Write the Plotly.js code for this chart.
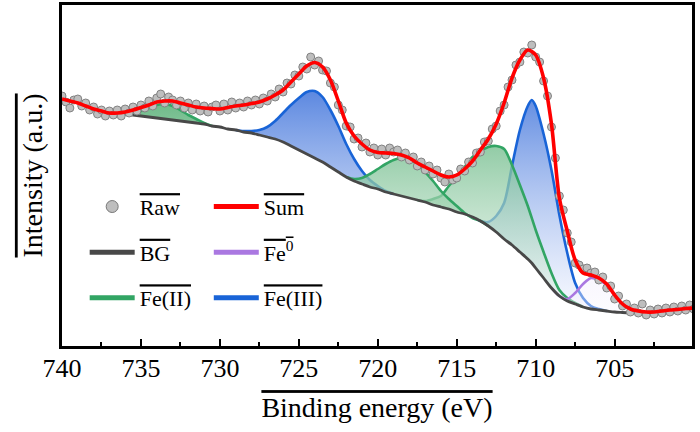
<!DOCTYPE html>
<html>
<head>
<meta charset="utf-8">
<script src="https://cdn.plot.ly/plotly-3.0.1.min.js"></script>
<style>
  html, body { margin: 0; padding: 0; background: #fff; }
  #xps { width: 700px; height: 432px; }
</style>
</head>
<body>
<div id="xps"></div>
<script>
// Fe 2p spectrum, intensity in arbitrary units

// raw scan, binding energy (eV)
const rawEnergy = [
    740, 739.75, 739.5, 739.25, 739, 738.75, 738.5, 738.25, 738, 737.75, 737.5, 737.25, 737, 736.75, 736.5, 736.25,
    736, 735.75, 735.5, 735.25, 735, 734.75, 734.5, 734.25, 734, 733.75, 733.5, 733.25, 733, 732.75, 732.5, 732.25,
    732, 731.75, 731.5, 731.25, 731, 730.75, 730.5, 730.25, 730, 729.75, 729.5, 729.25, 729, 728.75, 728.5, 728.25,
    728, 727.75, 727.5, 727.25, 727, 726.75, 726.5, 726.25, 726, 725.75, 725.5, 725.25, 725, 724.75, 724.5, 724.25,
    724, 723.75, 723.5, 723.25, 723, 722.75, 722.5, 722.25, 722, 721.75, 721.5, 721.25, 721, 720.75, 720.5, 720.25,
    720, 719.75, 719.5, 719.25, 719, 718.75, 718.5, 718.25, 718, 717.75, 717.5, 717.25, 717, 716.75, 716.5, 716.25,
    716, 715.75, 715.5, 715.25, 715, 714.75, 714.5, 714.25, 714, 713.75, 713.5, 713.25, 713, 712.75, 712.5, 712.25,
    712, 711.75, 711.5, 711.25, 711, 710.75, 710.5, 710.25, 710, 709.75, 709.5, 709.25, 709, 708.75, 708.5, 708.25,
    708, 707.75, 707.5, 707.25, 707, 706.75, 706.5, 706.25, 706, 705.75, 705.5, 705.25, 705, 704.75, 704.5, 704.25,
    704, 703.75, 703.5, 703.25, 703, 702.75, 702.5, 702.25, 702, 701.75, 701.5, 701.25, 701, 700.75, 700.5, 700.25,
    700
];
const rawIntensity = [
    250, 244, 238, 246, 247, 240, 243, 236, 239, 232, 236, 230, 235, 231, 236, 230,
    237, 233, 239, 235, 241, 238, 245, 240, 248, 252, 243, 249, 246, 241, 245, 238,
    243, 236, 242, 235, 240, 234, 239, 241, 235, 242, 236, 244, 238, 243, 239, 245,
    241, 246, 242, 248, 245, 252, 249, 257, 254, 263, 262, 271, 270, 279, 277, 289,
    281, 285, 276, 275, 263, 259, 241, 236, 220, 219, 207, 208, 199, 203, 194, 198,
    191, 197, 191, 198, 194, 196, 189, 193, 186, 189, 180, 184, 176, 180, 172, 176,
    168, 164, 172, 166, 168, 177, 175, 184, 183, 193, 194, 204, 205, 217, 220, 235,
    241, 259, 266, 281, 284, 294, 293, 301, 289, 284, 265, 250, 219, 188, 150, 136,
    113, 104, 83, 81, 77, 78, 73, 74, 66, 69, 58, 60, 47, 50, 40, 42,
    34, 38, 33, 42, 31, 36, 32, 37, 33, 38, 34, 39, 35, 40, 36, 41,
    37
];

// fitted envelope
const sumEnergy = [
    740, 739.5, 739, 738.5, 738, 737.5, 737, 736.5, 736, 735.5, 735, 734.5, 734, 733.5, 733, 732.5,
    732, 731.5, 731, 730.5, 730, 729.5, 729, 728.5, 728, 727.5, 727, 726.5, 726, 725.5, 725, 724.5,
    724, 723.5, 723, 722.5, 722, 721.5, 721, 720.5, 720, 719.5, 719, 718.5, 718, 717.5, 717, 716.5,
    716, 715.5, 715, 714.5, 714, 713.5, 713, 712.5, 712, 711.5, 711, 710.5, 710, 709.5, 709, 708.5,
    708, 707.5, 707, 706.5, 706, 705.5, 705, 704.5, 704, 703.5, 703, 702.5, 702, 701.5, 701, 700.5,
    700
];
const sumIntensity = [
    247, 245, 243, 240, 237, 235, 233, 233, 234, 236, 238.5, 241, 244, 245, 245, 243,
    241, 239, 238, 237.5, 237, 238.5, 240, 241, 242.5, 244, 247, 251, 256, 264, 272, 280,
    283.5, 279, 266, 245, 223, 210, 202, 196, 193.5, 193, 192.5, 191, 188, 183, 179, 175,
    171, 169, 171, 177, 185, 196, 207, 222, 243, 268, 286, 296, 291, 268, 222, 148,
    115, 86, 73, 71, 68, 62, 51, 42, 37, 35, 34, 34, 35, 36, 36.5, 37.5,
    38
];

// Shirley background
const bgEnergy = [
    736, 735.5, 735, 734.5, 734, 733.5, 733, 732.5, 732, 731.5, 731, 730.5, 730, 729.5, 729, 728.5,
    728, 727.5, 727, 726.5, 726, 725.5, 725, 724.5, 724, 723.5, 723, 722.5, 722, 721.5, 721, 720.5,
    720, 719.5, 719, 718.5, 718, 717.5, 717, 716.5, 716, 715.5, 715, 714.5, 714, 713.5, 713, 712.5,
    712, 711.5, 711, 710.5, 710.25, 710, 709.5, 709, 708.5, 708, 707.5, 707, 706.5, 706, 705.5, 705,
    704.5, 704
];
const bgIntensity = [
    232, 231, 230, 229, 228, 227, 226, 225, 224, 223, 222, 220, 219, 217, 216, 214,
    213, 211, 209, 207, 204, 200, 196, 192, 188, 184, 179, 174, 169, 165, 162, 159,
    157, 154, 152, 150, 148, 146, 144, 141, 139, 137, 134, 132, 129, 125, 120, 114,
    107, 101, 94, 87, 83, 78, 68, 58, 50, 45, 42, 39, 37, 36, 35, 34,
    33.5, 33
];

// components (curve incl. background)
const fe2SatEnergy = [736, 735.5, 735, 734.5, 734, 733.5, 733, 732.5, 732, 731.5, 731, 730.5];
const fe2SatIntensity = [232, 232, 235, 238, 241, 242, 240, 236, 231, 227, 223, 220];

const fe3HighEnergy = [729, 728.5, 728, 727.5, 727, 726.5, 726, 725.5, 725, 724.5, 724, 723.5, 723, 722.5, 722, 721.5, 721, 720.5, 720, 719.5, 719];
const fe3HighIntensity = [216, 215, 215, 216, 219, 225, 233, 241, 248, 254, 255, 249, 236, 220, 202, 187, 175, 166, 160, 155, 152];

const fe2MidEnergy = [722, 721.5, 721, 720.5, 720, 719.5, 719, 718.5, 718, 717.5, 717, 716.5, 716, 715.5, 715, 714.5, 714, 713.5, 713];
const fe2MidIntensity = [169, 167, 168, 172, 177, 182, 186, 188, 187, 182, 174, 165, 155, 147, 140, 133, 128, 125, 120];

const fe3LowEnergy = [714, 713.5, 713, 712.5, 712, 711.5, 711, 710.5, 710.25, 710, 709.5, 709, 708.5, 708, 707.5, 707, 706.5, 706, 705.5];
const fe3LowIntensity = [129, 125, 124, 130, 143, 180, 216, 240, 246, 240, 212, 176, 131, 93, 63, 48, 40, 37, 35];

const fe2LowEnergy = [717.5, 717, 716.5, 716, 715.5, 715, 714.5, 714, 713.5, 713, 712.5, 712, 711.5, 711, 710.5, 710, 709.5, 709, 708.5, 708, 707.5, 707];
const fe2LowIntensity = [146, 145, 147, 150, 160, 169, 179, 189, 195, 199, 200, 197, 181, 161, 140, 116, 94, 73, 56, 48, 43, 39];

const fe0Energy = [709, 708.5, 708, 707.5, 707, 706.5, 706, 705.5, 705, 704.5, 704];
const fe0Intensity = [58, 50, 47, 53, 62, 68, 66, 61, 51, 42, 37];

const FONT = 'Liberation Serif';
const OL = s => '<span style="text-decoration:overline">' + s + '</span>';

const BLUE = 'rgb(25,100,215)';
const GREEN = 'rgb(50,165,100)';
const PURPLE = 'rgb(170,120,225)';
const RED = 'rgb(255,0,0)';
const DARK = 'rgb(72,72,72)';

const blueScale = [[0, 'rgba(245,247,255,0.55)'], [1, 'rgba(70,120,220,0.88)']];
const greenScale = [[0, 'rgba(240,248,242,0.55)'], [1, 'rgba(80,172,112,0.88)']];
const purpleScale = [[0, 'rgba(250,248,255,0.4)'], [1, 'rgba(200,170,235,0.6)']];

function bgAt(e) {
    const i = bgEnergy.indexOf(e);
    return bgIntensity[i];
}

// fill between a component and the background
function areaTrace(energy, intensity, scale) {
    const back = energy.slice().reverse();
    return {
        x: energy.concat(back),
        y: intensity.concat(back.map(bgAt)),
        type: 'scatter',
        mode: 'lines',
        fill: 'toself',
        line: {width: 0, shape: 'spline', smoothing: 0.8},
        fillgradient: {type: 'vertical', start: 30, stop: 255, colorscale: scale},
        showlegend: false,
        hoverinfo: 'skip'
    };
}

function lineTrace(energy, intensity, color, width) {
    return {
        x: energy,
        y: intensity,
        type: 'scatter',
        mode: 'lines',
        line: {color: color, width: width || 2.6, shape: 'spline', smoothing: 0.8},
        showlegend: false
    };
}

// legend-only entries, drawn with thicker keys like the original
function legendKey(name, legend, rank, color, isMarker) {
    const key = {
        x: [null],
        y: [null],
        type: 'scatter',
        name: OL(name),
        legend: legend,
        legendgroup: name,
        legendrank: rank,
        showlegend: true,
        hoverinfo: 'skip'
    };
    if (isMarker) {
        key.mode = 'markers';
        key.marker = {size: 12, color: 'rgb(190,190,190)', line: {color: 'rgb(120,120,120)', width: 1}};
    } else {
        key.mode = 'lines';
        key.line = {color: color, width: 5};
    }
    return key;
}

const data = [
    areaTrace(fe2SatEnergy, fe2SatIntensity, greenScale),
    lineTrace(fe2SatEnergy, fe2SatIntensity, GREEN),
    areaTrace(fe3LowEnergy, fe3LowIntensity, blueScale),
    lineTrace(fe3LowEnergy, fe3LowIntensity, BLUE),
    areaTrace(fe2LowEnergy, fe2LowIntensity, greenScale),
    lineTrace(fe2LowEnergy, fe2LowIntensity, GREEN),
    areaTrace(fe3HighEnergy, fe3HighIntensity, blueScale),
    lineTrace(fe3HighEnergy, fe3HighIntensity, BLUE),
    areaTrace(fe2MidEnergy, fe2MidIntensity, greenScale),
    lineTrace(fe2MidEnergy, fe2MidIntensity, GREEN),
    areaTrace(fe0Energy, fe0Intensity, purpleScale),
    lineTrace(fe0Energy, fe0Intensity, PURPLE),
    lineTrace(bgEnergy, bgIntensity, DARK, 2.8),
    {
        x: rawEnergy,
        y: rawIntensity,
        type: 'scatter',
        mode: 'markers',
        marker: {size: 8, color: 'rgb(190,190,190)', line: {color: 'rgb(130,130,130)', width: 1}},
        showlegend: false
    },
    lineTrace(sumEnergy, sumIntensity, RED, 3.6),

    legendKey('Raw', 'legend', 1, null, true),
    legendKey('BG', 'legend', 2, DARK),
    legendKey('Fe(II)', 'legend', 3, GREEN),
    legendKey('Sum', 'legend2', 1, RED),
    legendKey('Fe<sup>0</sup>', 'legend2', 2, PURPLE),
    legendKey('Fe(III)', 'legend2', 3, BLUE)
];

const legendBase = {
    bgcolor: 'rgba(0,0,0,0)',
    borderwidth: 0,
    font: {family: FONT, size: 22, color: 'black'},
    traceorder: 'grouped',
    tracegroupgap: 14,
    itemwidth: 45,
    xanchor: 'left',
    yanchor: 'top',
    y: 0.47
};

const layout = {
    width: 700,
    height: 432,
    margin: {l: 62, r: 8, t: 5, b: 86},
    paper_bgcolor: 'white',
    plot_bgcolor: 'white',
    font: {family: FONT, color: 'black'},
    xaxis: {
        range: [740, 700.1],
        tick0: 700,
        dtick: 5,
        ticks: 'inside',
        ticklen: 7,
        tickwidth: 2,
        tickcolor: 'black',
        ticklabelstandoff: -3,
        minor: {dtick: 2.5, ticks: 'inside', ticklen: 4, tickwidth: 2, tickcolor: 'black'},
        tickfont: {family: FONT, size: 26, color: 'black'},
        showline: true,
        linewidth: 2.6,
        linecolor: 'black',
        mirror: true,
        showgrid: false,
        zeroline: false,
        title: {text: OL('Binding energy (eV)'), font: {family: FONT, size: 28, color: 'black'}, standoff: 16}
    },
    yaxis: {
        range: [0, 341],
        showticklabels: false,
        ticks: '',
        showline: true,
        linewidth: 2.6,
        linecolor: 'black',
        mirror: true,
        showgrid: false,
        zeroline: false,
        title: {text: OL('Intensity (a.u.)'), font: {family: FONT, size: 28, color: 'black'}, standoff: 9}
    },
    legend: Object.assign({}, legendBase, {x: 0.036}),
    legend2: Object.assign({}, legendBase, {x: 0.233}),
    showlegend: true
};

Plotly.newPlot('xps', data, layout, {displayModeBar: false, staticPlot: true});
</script>
</body>
</html>
